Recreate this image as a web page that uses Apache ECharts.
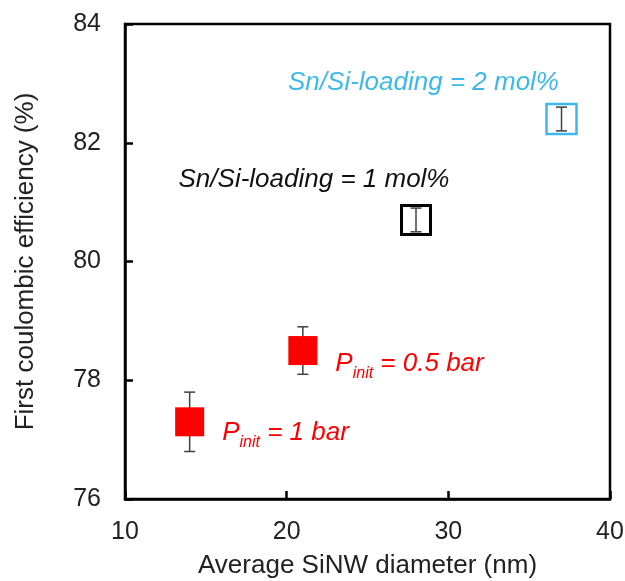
<!DOCTYPE html>
<html>
<head>
<meta charset="utf-8">
<script src="https://cdn.jsdelivr.net/npm/echarts@6/dist/echarts.min.js"></script>
<style>
  html, body { margin: 0; padding: 0; background: #fff; }
  #chart { width: 625px; height: 581px; }
</style>
</head>
<body>
<div id="chart"></div>
<script>
  // data
  const diameters = [14, 21, 28, 37]
  const efficiency = [77.3, 78.5, 80.7, 82.4]
  const errLow = [76.8, 78.1, 80.5, 82.2]
  const errHigh = [77.8, 78.9, 80.9, 82.6]
  const xTicks = [10, 20, 30, 40]
  const yTicks = [76, 78, 80, 82, 84]

  const red = '#ff0000'
  const blue = '#3cb9ea'
  const font = 'Liberation Sans, Arial, sans-serif'

  const chart = echarts.init(document.getElementById('chart'), null, { renderer: 'canvas' })

  const errData = diameters.map((d, i) => [d, errLow[i], errHigh[i]])

  const pLabel = (rest, dy) => ({
    show: true,
    position: 'right',
    distance: 18,
    offset: [0, dy],
    formatter: '{p|P}{sub|init}{p| = ' + rest + '}',
    rich: {
      p: { fontSize: 26, fontStyle: 'italic', color: red, fontFamily: font, lineHeight: 36 },
      sub: { fontSize: 16, fontStyle: 'italic', color: red, fontFamily: font, verticalAlign: 'bottom', lineHeight: 36 }
    }
  })

  const loadLabel = (text, color, off) => ({
    show: true,
    position: 'inside',
    offset: off,
    formatter: text,
    fontSize: 26,
    fontStyle: 'italic',
    fontFamily: font,
    color: color
  })

  chart.setOption({
    animation: false,
    grid: {
      left: 125, right: 15, top: 24, bottom: 82,
      outerBoundsMode: 'none', containLabel: false,
      show: true, borderColor: '#000', borderWidth: 2.5, backgroundColor: 'transparent'
    },
    xAxis: {
      type: 'value',
      min: xTicks[0],
      max: xTicks[xTicks.length - 1],
      interval: 10,
      name: 'Average SiNW diameter (nm)',
      nameLocation: 'middle',
      nameGap: 54,
      nameTextStyle: { fontSize: 26, color: '#222', fontFamily: font },
      splitLine: { show: false },
      axisLine: { show: true, onZero: false, lineStyle: { color: '#000', width: 2.5 } },
      axisTick: { show: true, inside: true, length: 8, lineStyle: { color: '#000', width: 2.5 } },
      axisLabel: { fontSize: 25, color: '#222', fontFamily: font, margin: 21 }
    },
    yAxis: {
      type: 'value',
      min: yTicks[0],
      max: yTicks[yTicks.length - 1],
      interval: 2,
      name: 'First coulombic efficiency (%)',
      nameLocation: 'middle',
      nameGap: 86,
      nameTextStyle: { fontSize: 26, color: '#222', fontFamily: font },
      splitLine: { show: false },
      axisLine: { show: true, onZero: false, lineStyle: { color: '#000', width: 2.5 } },
      axisTick: { show: true, inside: true, length: 8, lineStyle: { color: '#000', width: 2.5 } },
      axisLabel: { fontSize: 25, color: '#222', fontFamily: font, margin: 24 }
    },
    series: [
      {
        type: 'custom',
        name: 'error',
        z: 1,
        data: errData,
        renderItem(params, api) {
          const x = api.value(0)
          const lo = api.coord([x, api.value(1)])
          const hi = api.coord([x, api.value(2)])
          const w = 5.5
          const style = { stroke: '#404040', lineWidth: 1.5 }
          return {
            type: 'group',
            children: [
              { type: 'line', shape: { x1: lo[0], y1: lo[1], x2: hi[0], y2: hi[1] }, style },
              { type: 'line', shape: { x1: lo[0] - w, y1: lo[1], x2: lo[0] + w, y2: lo[1] }, style },
              { type: 'line', shape: { x1: hi[0] - w, y1: hi[1], x2: hi[0] + w, y2: hi[1] }, style }
            ]
          }
        }
      },
      {
        type: 'scatter',
        z: 2,
        symbol: 'rect',
        itemStyle: { opacity: 1 },
        emphasis: { disabled: true },
        data: [
          { value: [diameters[0], efficiency[0]], symbolSize: 29, itemStyle: { color: red, opacity: 1 }, label: pLabel('1 bar', 11) },
          { value: [diameters[1], efficiency[1]], symbolSize: 29, itemStyle: { color: red, opacity: 1 }, label: pLabel('0.5 bar', 13) },
          {
            value: [diameters[2], efficiency[2]], symbolSize: 29,
            itemStyle: { color: 'transparent', borderColor: '#000', borderWidth: 3, opacity: 1 },
            label: loadLabel('Sn/Si-loading = 1 mol%', '#111', [-102, -40])
          },
          {
            value: [diameters[3], efficiency[3]], symbolSize: 30,
            itemStyle: { color: 'transparent', borderColor: blue, borderWidth: 2.5, opacity: 1 },
            label: loadLabel('Sn/Si-loading = 2 mol%', blue, [-138, -36])
          }
        ]
      }
    ]
  })
</script>
</body>
</html>
